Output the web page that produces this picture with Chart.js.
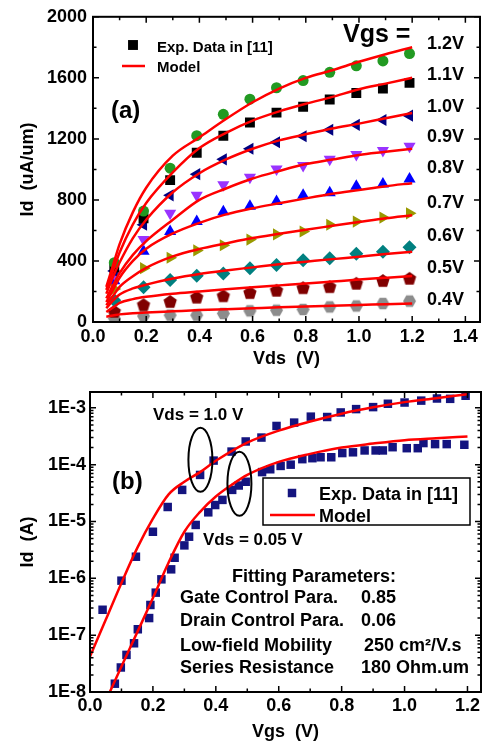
<!DOCTYPE html>
<html>
<head>
<meta charset="utf-8">
<script src="https://cdn.jsdelivr.net/npm/chart.js@4.4.0/dist/chart.umd.min.js"></script>
<style>
body{margin:0;background:#fff;width:487px;height:744px;overflow:hidden;position:relative}
#wa{position:absolute;left:0;top:0;width:487px;height:372px}
#wb{position:absolute;left:0;top:372px;width:487px;height:372px}
</style>
</head>
<body>
<div id="wa"><canvas id="chartA"></canvas></div>
<div id="wb"><canvas id="chartB"></canvas></div>
<script>
// ---- (a) Id-Vds, exp. points
var vdsExp = [0.08, 0.19, 0.29, 0.39, 0.49, 0.59, 0.69, 0.79, 0.89, 0.99, 1.09, 1.19];
var idExp12 = [389, 727, 1008, 1221, 1361, 1460, 1535, 1582, 1636, 1679, 1711, 1759];
var idExp11 = [357, 679, 930, 1109, 1221, 1307, 1372, 1411, 1458, 1501, 1529, 1567];
var idExp10 = [335, 637, 830, 969, 1066, 1135, 1178, 1217, 1260, 1292, 1324, 1352];
var idExp09 = [316, 540, 712, 830, 899, 948, 1002, 1025, 1066, 1098, 1124, 1152];
var idExp08 = [271, 464, 593, 658, 722, 759, 789, 830, 847, 890, 905, 937];
var idExp07 = [217, 353, 421, 469, 503, 540, 574, 593, 637, 658, 684, 712];
var idExp06 = [142, 228, 275, 303, 318, 353, 374, 404, 417, 447, 460, 490];
var idExp05 = [66, 110, 131, 159, 168, 189, 204, 221, 228, 250, 268, 283];
var idExp04 = [24, 39, 45, 45, 56, 73, 77, 82, 99, 105, 121, 137];

// ---- (a) model curves
var vdsModel = [0.05, 0.075, 0.1, 0.15, 0.2, 0.3, 0.4, 0.5, 0.6, 0.7, 0.8, 0.9, 1.0, 1.1, 1.2];
var idMod12 = [230, 370, 510, 720, 880, 1090, 1210, 1330, 1440, 1530, 1600, 1650, 1705, 1755, 1800];
var idMod11 = [210, 335, 455, 640, 780, 980, 1140, 1240, 1320, 1380, 1430, 1475, 1525, 1562, 1600];
var idMod10 = [185, 295, 390, 550, 670, 850, 975, 1065, 1135, 1190, 1230, 1268, 1300, 1335, 1370];
var idMod09 = [155, 240, 320, 440, 530, 670, 800, 875, 940, 990, 1035, 1065, 1095, 1115, 1135];
var idMod08 = [130, 210, 290, 400, 480, 580, 650, 705, 745, 778, 810, 840, 865, 890, 910];
var idMod07 = [110, 170, 230, 300, 355, 430, 478, 515, 550, 578, 605, 630, 655, 680, 700];
var idMod06 = [90, 140, 180, 220, 245, 285, 315, 338, 358, 378, 395, 412, 428, 445, 460];
var idMod05 = [65, 95, 125, 150, 165, 185, 200, 215, 228, 240, 252, 265, 278, 290, 302];
var idMod04 = [35, 42, 50, 57, 62, 70, 78, 84, 90, 96, 102, 107, 112, 117, 122];

var vgsLabels = ['1.2V', '1.1V', '1.0V', '0.9V', '0.8V', '0.7V', '0.6V', '0.5V', '0.4V'];
var xTicksA = [0, 0.2, 0.4, 0.6, 0.8, 1.0, 1.2, 1.4];
var yTicksA = [0, 400, 800, 1200, 1600, 2000];
var xMinorA = [0.1, 0.3, 0.5, 0.7, 0.9, 1.1, 1.3];
var yMinorA = [200, 600, 1000, 1400, 1800];

// ---- (b) Id-Vgs
var vgsB1 = [0.04, 0.1, 0.146, 0.2, 0.247, 0.293, 0.35, 0.393, 0.45, 0.495, 0.545, 0.593, 0.649, 0.702, 0.754, 0.797, 0.846, 0.9, 0.947, 1.0, 1.053, 1.103, 1.145, 1.194];
var idB1 = [2.8e-7, 9.1e-7, 2.4e-6, 6.6e-6, 1.8e-5, 3.6e-5, 6.6e-5, 1.18e-4, 1.7e-4, 2.56e-4, 3.0e-4, 4.8e-4, 5.5e-4, 7.0e-4, 6.9e-4, 8.3e-4, 9.5e-4, 1.03e-3, 1.18e-3, 1.24e-3, 1.34e-3, 1.46e-3, 1.44e-3, 1.63e-3];
var vgsB2 = [0.079, 0.098, 0.116, 0.14, 0.152, 0.188, 0.192, 0.209, 0.227, 0.258, 0.269, 0.3, 0.315, 0.336, 0.376, 0.398, 0.421, 0.452, 0.473, 0.495, 0.547, 0.573, 0.606, 0.638, 0.675, 0.707, 0.733, 0.767, 0.802, 0.836, 0.873, 0.908, 0.931, 0.962, 1.007, 1.042, 1.06, 1.097, 1.134, 1.19];
var idB2 = [1.4e-8, 2.7e-8, 4.5e-8, 7.2e-8, 1.27e-7, 2.0e-7, 3.4e-7, 5.6e-7, 9.6e-7, 1.44e-6, 2.3e-6, 3.8e-6, 5.4e-6, 8.7e-6, 1.45e-5, 1.95e-5, 2.4e-5, 3.6e-5, 4.3e-5, 5.0e-5, 7.4e-5, 8.3e-5, 9.5e-5, 1.0e-4, 1.25e-4, 1.3e-4, 1.35e-4, 1.35e-4, 1.6e-4, 1.65e-4, 1.78e-4, 1.78e-4, 1.78e-4, 2.03e-4, 1.95e-4, 1.95e-4, 2.4e-4, 2.3e-4, 2.3e-4, 2.24e-4];
var vgsModel1 = [0, 0.05, 0.1, 0.15, 0.2, 0.25, 0.3, 0.35, 0.4, 0.5, 0.6, 0.7, 0.8, 0.9, 1.0, 1.1, 1.2];
var idModel1 = [4.2e-8, 1.86e-7, 8.3e-7, 3.4e-6, 1.12e-5, 3.0e-5, 5.0e-5, 7.4e-5, 1.17e-4, 2.45e-4, 3.98e-4, 5.75e-4, 7.9e-4, 1.02e-3, 1.26e-3, 1.48e-3, 1.74e-3];
var vgsModel2 = [0.063, 0.1, 0.15, 0.2, 0.25, 0.3, 0.35, 0.4, 0.45, 0.5, 0.6, 0.7, 0.8, 0.9, 1.0, 1.1, 1.2];
var idModel2 = [1e-8, 2.8e-8, 1.12e-7, 4.5e-7, 1.9e-6, 6.6e-6, 1.48e-5, 2.75e-5, 4.4e-5, 6.6e-5, 1.12e-4, 1.55e-4, 2.0e-4, 2.35e-4, 2.7e-4, 2.92e-4, 3.13e-4];
var xTicksB = [0, 0.2, 0.4, 0.6, 0.8, 1.0, 1.2];
var yTicksB = [1e-8, 1e-7, 1e-6, 1e-5, 1e-4, 1e-3];
var xMinorB = [0.1, 0.3, 0.5, 0.7, 0.9, 1.1];

var FONT = '"Liberation Sans", Arial, sans-serif';
var RED = '#ff0000';

function pts(xs, ys) {
  return xs.map(function (x, i) { return {x: x, y: ys[i]}; });
}

function polyMarker(n, r, color, rot) {
  var c = document.createElement('canvas');
  var s = Math.ceil(2 * r + 2);
  c.width = s; c.height = s;
  var g = c.getContext('2d');
  g.fillStyle = color;
  g.beginPath();
  for (var i = 0; i < n; i++) {
    var a = rot + i * 2 * Math.PI / n;
    g.lineTo(s / 2 + r * Math.cos(a), s / 2 + r * Math.sin(a));
  }
  g.closePath();
  g.fill();
  return c;
}

// frame + inward ticks on all four sides
var frameTicks = {
  id: 'frameTicks',
  afterDraw: function (chart, args, opts) {
    var ctx = chart.ctx, a = chart.chartArea;
    var xs = chart.scales.x, ys = chart.scales.y;
    ctx.save();
    ctx.strokeStyle = '#000';
    ctx.lineWidth = 1.5;
    function tx(v, len) {
      var p = xs.getPixelForValue(v);
      ctx.beginPath();
      ctx.moveTo(p, a.bottom); ctx.lineTo(p, a.bottom - len);
      ctx.moveTo(p, a.top); ctx.lineTo(p, a.top + len);
      ctx.stroke();
    }
    function ty(v, len) {
      var p = ys.getPixelForValue(v);
      ctx.beginPath();
      ctx.moveTo(a.left, p); ctx.lineTo(a.left + len, p);
      ctx.moveTo(a.right, p); ctx.lineTo(a.right - len, p);
      ctx.stroke();
    }
    xs.ticks.forEach(function (t) { tx(t.value, 6); });
    ys.ticks.forEach(function (t) { ty(t.value, 6); });
    opts.xMinor.forEach(function (v) { tx(v, 3.5); });
    opts.yMinor.forEach(function (v) { if (v > ys.min && v < ys.max) ty(v, 3.5); });
    ctx.lineWidth = 2;
    ctx.strokeRect(a.left, a.top, a.right - a.left, a.bottom - a.top);
    ctx.restore();
  }
};

// ---------------- chart (a)
var expSeries = [idExp12, idExp11, idExp10, idExp09, idExp08, idExp07, idExp06, idExp05, idExp04];
var modSeries = [idMod12, idMod11, idMod10, idMod09, idMod08, idMod07, idMod06, idMod05, idMod04];
var expColors = ['#229a22', '#000000', '#000080', '#9933ff', '#0000ff', '#999900', '#008080', '#800000', '#8c8c8c'];
var expStyles = ['circle', 'rect', 'triangle', 'triangle', 'triangle', 'triangle', 'rectRot',
  polyMarker(5, 7, '#800000', -Math.PI / 2), polyMarker(6, 6.5, '#8c8c8c', 0)];
var expRot = [0, 0, 270, 180, 0, 90, 0, 0, 0];
var expRad = [5.5, 7, 7, 7, 7, 7, 7, 7, 7];

var dsA = [];
modSeries.forEach(function (s) {
  dsA.push({data: pts(vdsModel, s), borderColor: RED, borderWidth: 2.5, pointRadius: 0,
    cubicInterpolationMode: 'monotone', order: 0});
});
expSeries.forEach(function (s, i) {
  dsA.push({data: pts(vdsExp, s), showLine: false, pointStyle: expStyles[i], pointRotation: expRot[i],
    pointRadius: expRad[i], pointBackgroundColor: expColors[i], pointBorderWidth: 0, order: 1});
});

var notesA = {
  id: 'notesA',
  afterDraw: function (chart) {
    var ctx = chart.ctx;
    ctx.save();
    ctx.fillStyle = '#000';
    ctx.textBaseline = 'alphabetic';
    Chart.helpers.drawPoint(ctx, {pointStyle: 'rect', radius: 7, rotation: 0, borderWidth: 0}, 133, 45);
    ctx.font = 'bold 15px ' + FONT;
    ctx.fillText('Exp. Data in [11]', 157, 52);
    ctx.fillText('Model', 157, 72);
    ctx.strokeStyle = RED; ctx.lineWidth = 2.5;
    ctx.beginPath(); ctx.moveTo(122, 66); ctx.lineTo(145, 66); ctx.stroke();
    ctx.font = 'bold 24px ' + FONT;
    ctx.fillText('(a)', 111, 118);
    ctx.font = 'bold 25px ' + FONT;
    ctx.fillText('Vgs =', 343, 42);
    ctx.font = 'bold 18px ' + FONT;
    ctx.textBaseline = 'middle';
    var labY = [44, 75, 107, 137, 168, 203, 236, 268, 300];
    vgsLabels.forEach(function (t, i) { ctx.fillText(t, 427, labY[i]); });
    ctx.restore();
  }
};

new Chart(document.getElementById('chartA'), {
  type: 'line',
  data: {datasets: dsA},
  options: {
    responsive: true, maintainAspectRatio: false, animation: false, events: [],
    layout: {padding: {top: 12, right: 5, left: 0, bottom: 0}},
    plugins: {legend: {display: false}, tooltip: {enabled: false},
      frameTicks: {xMinor: xMinorA, yMinor: yMinorA}},
    scales: {
      x: {type: 'linear', min: 0, max: 1.455,
        afterBuildTicks: function (s) { s.ticks = xTicksA.map(function (v) { return {value: v}; }); },
        afterFit: function (s) { s.height = 50; },
        grid: {display: false, drawTicks: false}, border: {display: false},
        ticks: {padding: 4, color: '#000', font: {family: FONT, size: 18, weight: 'bold'},
          callback: function (v) { return v.toFixed(1); }},
        title: {display: true, text: 'Vds  (V)', color: '#000', padding: {top: 0, bottom: 2},
          font: {family: FONT, size: 18, weight: 'bold'}}},
      y: {type: 'linear', min: 0, max: 2000,
        afterBuildTicks: function (s) { s.ticks = yTicksA.map(function (v) { return {value: v}; }); },
        afterFit: function (s) { s.width = 93; },
        grid: {display: false, drawTicks: false}, border: {display: false},
        ticks: {padding: 6, color: '#000', font: {family: FONT, size: 18, weight: 'bold'},
          callback: function (v) { return String(v); }},
        title: {display: true, text: 'Id  (uA/um)', color: '#000', padding: {top: 17, bottom: 0},
          font: {family: FONT, size: 18, weight: 'bold'}}}
    }
  },
  plugins: [frameTicks, notesA]
});

// ---------------- chart (b)
var yMinorB = [];
for (var e = -8; e <= -3; e++) {
  for (var k = 2; k <= 9; k++) yMinorB.push(k * Math.pow(10, e));
}
var NAVY = '#14147f';
var dsB = [
  {data: pts(vgsModel1, idModel1), borderColor: RED, borderWidth: 2.5, pointRadius: 0, cubicInterpolationMode: 'monotone', order: 0},
  {data: pts(vgsModel2, idModel2), borderColor: RED, borderWidth: 2.5, pointRadius: 0, cubicInterpolationMode: 'monotone', order: 0},
  {data: pts(vgsB1, idB1), showLine: false, pointStyle: 'rect', pointRadius: 6, pointBackgroundColor: NAVY, pointBorderWidth: 0, order: 1},
  {data: pts(vgsB2, idB2), showLine: false, pointStyle: 'rect', pointRadius: 6, pointBackgroundColor: NAVY, pointBorderWidth: 0, order: 1}
];

var notesB = {
  id: 'notesB',
  afterDraw: function (chart) {
    var ctx = chart.ctx, xs = chart.scales.x, ys = chart.scales.y;
    ctx.save();
    ctx.fillStyle = '#000';
    ctx.strokeStyle = '#000';
    ctx.textBaseline = 'alphabetic';
    ctx.font = 'bold 17px ' + FONT;
    ctx.fillText('Vds = 1.0 V', 153, 48);
    ctx.fillText('Vds = 0.05 V', 203, 173);
    ctx.font = 'bold 24px ' + FONT;
    ctx.fillText('(b)', 112, 117);
    // ellipses around the two curves
    ctx.lineWidth = 2;
    ctx.beginPath();
    ctx.ellipse(xs.getPixelForValue(0.351), ys.getPixelForValue(1.22e-4), 12, 32, 0, 0, 2 * Math.PI);
    ctx.stroke();
    ctx.beginPath();
    ctx.ellipse(xs.getPixelForValue(0.475), ys.getPixelForValue(4.6e-5), 12, 32, 0, 0, 2 * Math.PI);
    ctx.stroke();
    // legend box
    ctx.lineWidth = 1.5;
    ctx.fillStyle = '#fff';
    ctx.fillRect(263, 106, 207, 47);
    ctx.strokeRect(263, 106, 207, 47);
    ctx.fillStyle = NAVY;
    Chart.helpers.drawPoint(ctx, {pointStyle: 'rect', radius: 6, rotation: 0, borderWidth: 0}, 292, 121);
    ctx.strokeStyle = RED; ctx.lineWidth = 2.5;
    ctx.beginPath(); ctx.moveTo(270, 143); ctx.lineTo(315, 143); ctx.stroke();
    ctx.fillStyle = '#000';
    ctx.font = 'bold 18px ' + FONT;
    ctx.fillText('Exp. Data in [11]', 319, 128);
    ctx.fillText('Model', 319, 150);
    // fitting parameters
    ctx.fillText('Fitting Parameters:', 232, 210);
    ctx.fillText('Gate Control Para.', 180, 231);
    ctx.fillText('0.85', 361, 231);
    ctx.fillText('Drain Control Para.', 180, 254);
    ctx.fillText('0.06', 361, 254);
    ctx.fillText('Low-field Mobility', 180, 279);
    ctx.fillText('250 cm\u00b2/V.s', 364, 279);
    ctx.fillText('Series Resistance', 180, 301);
    ctx.fillText('180 Ohm.um', 361, 301);
    ctx.restore();
  }
};

new Chart(document.getElementById('chartB'), {
  type: 'line',
  data: {datasets: dsB},
  options: {
    responsive: true, maintainAspectRatio: false, animation: false, events: [],
    layout: {padding: {top: 20, right: 4, left: 0, bottom: 0}},
    plugins: {legend: {display: false}, tooltip: {enabled: false},
      frameTicks: {xMinor: xMinorB, yMinor: yMinorB}},
    scales: {
      x: {type: 'linear', min: 0, max: 1.243,
        afterBuildTicks: function (s) { s.ticks = xTicksB.map(function (v) { return {value: v}; }); },
        afterFit: function (s) { s.height = 52; },
        grid: {display: false, drawTicks: false}, border: {display: false},
        ticks: {padding: 3, color: '#000', font: {family: FONT, size: 18, weight: 'bold'},
          callback: function (v) { return v.toFixed(1); }},
        title: {display: true, text: 'Vgs  (V)', color: '#000', padding: {top: 0, bottom: 1.5},
          font: {family: FONT, size: 18, weight: 'bold'}}},
      y: {type: 'logarithmic', min: 1e-8, max: 1.9e-3,
        afterBuildTicks: function (s) { s.ticks = yTicksB.map(function (v) { return {value: v}; }); },
        afterFit: function (s) { s.width = 90; },
        grid: {display: false, drawTicks: false}, border: {display: false},
        ticks: {padding: 4, color: '#000', font: {family: FONT, size: 18, weight: 'bold'},
          callback: function (v) { return '1E' + Math.round(Math.log10(v)); }},
        title: {display: true, text: 'Id  (A)', color: '#000', padding: {top: 17, bottom: 0},
          font: {family: FONT, size: 18, weight: 'bold'}}}
    }
  },
  plugins: [frameTicks, notesB]
});
</script>
</body>
</html>
